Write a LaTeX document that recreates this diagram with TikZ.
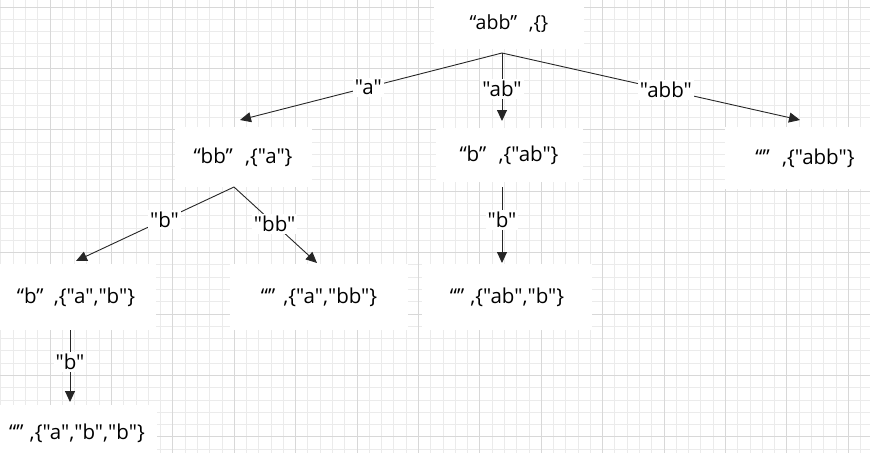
\documentclass[tikz,border=0pt]{standalone}
\usepackage{fontspec}
\setmainfont{Open Sans}[Ligatures=TeXOff]
\usetikzlibrary{arrows.meta}
\definecolor{gridminor}{HTML}{EBEBEB}
\definecolor{gridmajor}{HTML}{D8D8D8}
\definecolor{edgecol}{HTML}{262626}
\tikzset{
  statebox/.style={fill=white, inner sep=0pt, font=\fontsize{20.5}{23}\selectfont},
  edgelbl/.style={fill=white, inner sep=2pt, font=\fontsize{20.5}{23}\selectfont},
  edge/.style={draw=edgecol, line width=0.9pt, -{Triangle[length=11pt,width=10pt]}},
}
\begin{document}
\begin{tikzpicture}[x=1pt,y=-1pt]
  \useasboundingbox (0,0) rectangle (870,453);
  % background grid
  \foreach \i in {0,...,71}
    \draw[gridminor, line width=0.8pt] (-11.4+12.28*\i,0) -- (-11.4+12.28*\i,453);
  \foreach \i in {0,...,37}
    \draw[gridminor, line width=0.8pt] (0,-5.28+12.28*\i) -- (870,-5.28+12.28*\i);
  \foreach \i in {0,...,14}
    \draw[gridmajor, line width=0.8pt] (-11.4+61.4*\i,0) -- (-11.4+61.4*\i,453);
  \foreach \i in {0,...,7}
    \draw[gridmajor, line width=0.8pt] (0,7+61.4*\i) -- (870,7+61.4*\i);

  % states
  \node[statebox, minimum width=150, minimum height=50, font=\fontsize{19.5}{22}\selectfont]
    (root) at (509,24) {“abb”\hspace{0.6em},\{\}};
  \node[statebox, minimum width=137, minimum height=60] (bb) at (243,157) {“bb”\hspace{0.6em},\{"a"\}};
  \node[statebox, minimum width=147, minimum height=54] (b1) at (509,155) {“b”\hspace{0.6em},\{"ab"\}};
  \node[statebox, minimum width=160, minimum height=62] (e1) at (805,158) {“”\hspace{0.6em},\{"abb"\}};
  \node[statebox, minimum width=160, minimum height=66] (b2) at (76,297) {“b”\hspace{0.5em},\{"a","b"\}};
  \node[statebox, minimum width=178, minimum height=66] (e2) at (319,297) {“”\hspace{0.4em},\{"a","bb"\}};
  \node[statebox, minimum width=170, minimum height=66] (e3) at (507,297) {“”\hspace{0.3em},\{"ab","b"\}};
  \node[statebox, minimum width=160, minimum height=56] (e4) at (77,433) {“”\hspace{0.3em},\{"a","b","b"\}};

  % fork and tip points
  \coordinate (f0) at (502,53);
  \coordinate (f1) at (234,187);
  \coordinate (f2) at (502,187);
  \coordinate (f3) at (70,330);
  \coordinate (t1) at (240,120);
  \coordinate (t2) at (502,121);
  \coordinate (t3) at (800,120);
  \coordinate (t4) at (76,261);
  \coordinate (t5) at (317,263);
  \coordinate (t6) at (502,263);
  \coordinate (t7) at (70,402);

  % edges
  \draw[edge] (f0) -- node[edgelbl, pos=0.51] {"a"} (t1);
  \draw[edge] (f0) -- node[edgelbl, pos=0.53] {"ab"} (t2);
  \draw[edge] (f0) -- node[edgelbl, pos=0.55] {"abb"} (t3);
  \draw[edge] (f1) -- node[edgelbl, pos=0.44] {"b"} (t4);
  \draw[edge] (f1) -- node[edgelbl, pos=0.49] {"bb"} (t5);
  \draw[edge] (f2) -- node[edgelbl, pos=0.43] {"b"} (t6);
  \draw[edge] (f3) -- node[edgelbl, pos=0.44] {"b"} (t7);
\end{tikzpicture}
\end{document}
